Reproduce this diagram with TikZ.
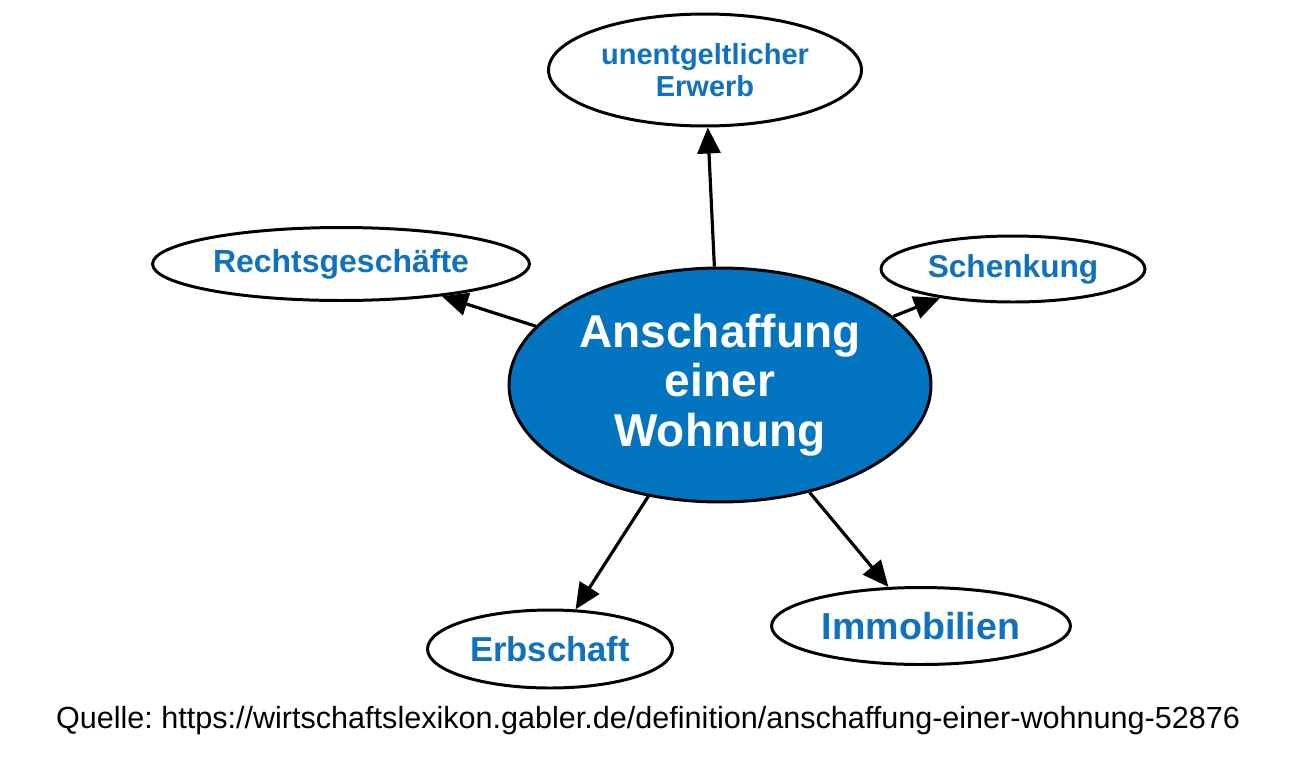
\documentclass[tikz,border=0pt]{standalone}
\usepackage{fontspec}
\usepackage{xcolor}
\setmainfont{Liberation Sans}
\usetikzlibrary{shapes.geometric,arrows.meta}

\definecolor{gablerblue}{RGB}{2,116,192}
\definecolor{gablertext}{RGB}{16,113,190}

\tikzset{
  term/.style = {ellipse, draw, line width = 1.7pt, fill = white, inner sep = 0pt,
                 text = gablertext, font = \bfseries, align = center},
  mainterm/.style = {term, fill = gablerblue, text = white},
  link/.style = {line width = 1.8pt, -{Triangle[length = 0.52cm, width = 0.46cm]}}
}

\begin{document}
\frenchspacing
\begin{tikzpicture}[x = 0.02cm, y = -0.02cm]
      \useasboundingbox (0, 0) rectangle (1300, 771);
      % centre
      \node [mainterm, minimum width = 8.44cm, minimum height = 4.68cm,
             font = \bfseries\fontsize{26.2}{28.3}\selectfont] (wohnung) at (720, 385)
             {Anschaffung\\einer\\Wohnung};
      % outer terms
      \node [term, minimum width = 6.26cm, minimum height = 2.24cm,
             font = \bfseries\fontsize{16.5}{18.1}\selectfont] (erwerb) at (705, 70)
             {unentgeltlicher\\Erwerb};
      \node [term, minimum width = 7.54cm, minimum height = 1.46cm,
             font = \bfseries\fontsize{18.2}{20}\selectfont] (rechts) at (341, 264) {Rechtsgeschäfte};
      \node [term, minimum width = 5.28cm, minimum height = 1.32cm,
             font = \bfseries\fontsize{18}{20}\selectfont] (schenkung) at (1013, 269) {Schenkung};
      \node [term, minimum width = 4.9cm, minimum height = 1.56cm,
             font = \bfseries\fontsize{19.7}{22}\selectfont] (erbschaft) at (550, 649) {Erbschaft};
      \node [term, minimum width = 5.98cm, minimum height = 1.54cm,
             font = \bfseries\fontsize{21.4}{24}\selectfont] (immobilien) at (921, 626) {Immobilien};
      % links
      \draw [link] (wohnung) -- (erwerb);
      \draw [link] (wohnung) -- (rechts);
      \draw [link] (wohnung) -- (schenkung);
      \draw [link] (wohnung) -- (erbschaft);
      \draw [link] (wohnung) -- (immobilien);
      % source
      \node [font = \fontsize{17.4}{19}\selectfont, inner sep = 0pt] (quelle) at (648, 721)
            {Quelle: https://wirtschaftslexikon.gabler.de/definition/anschaffung-einer-wohnung-52876};
\end{tikzpicture}
\end{document}
